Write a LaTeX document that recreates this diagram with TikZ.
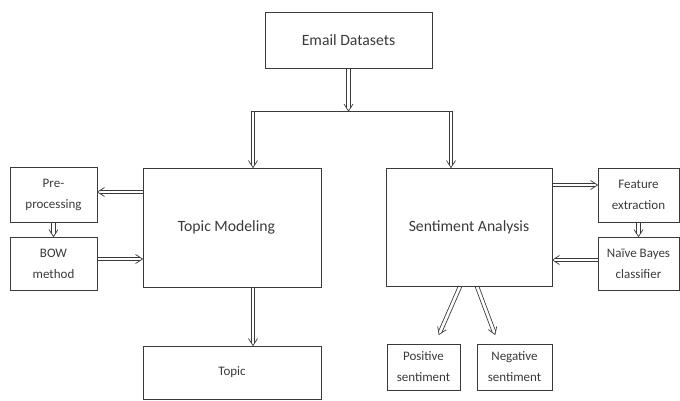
\documentclass[tikz,border=0pt]{standalone}
\usepackage{fontspec}
\setmainfont{Carlito}
\usetikzlibrary{calc}
\definecolor{inkgray}{HTML}{3A3A3A}
% hollow double arrow from #1 to #2
\newcommand{\flowarrow}[2]{%
  \coordinate (fa) at (#1);
  \coordinate (fb) at (#2);
  \coordinate (fc) at ($(fb)!2.8pt!(fa)$);
  \coordinate (fd) at ($(fb)!7pt!(fa)$);
  \draw[flowline] ($(fa)!1.8pt!90:(fb)$) -- ($(fc)!1.8pt!-90:(fa)$);
  \draw[flowline] ($(fa)!1.8pt!-90:(fb)$) -- ($(fc)!1.8pt!90:(fa)$);
  \draw[flowline] ($(fd)!4.5pt!-90:(fa)$) -- (fb) -- ($(fd)!4.5pt!90:(fa)$);
}
\begin{document}
\begin{tikzpicture}[x=1pt, y=-1pt,
    block/.style ={rectangle, draw=inkgray, line width=0.9pt, text=inkgray,
                   inner sep=0pt, align=center, font=\fontsize{15.7}{18}\selectfont},
    smallblock/.style ={block, font=\fontsize{13}{21}\selectfont},
    flowline/.style ={draw=inkgray, line width=0.7pt, line join=miter}]
   \useasboundingbox (0,0) rectangle (680,401);
   \node[block, minimum width=167pt, minimum height=56pt]  (data)  at (348.5,40)   {Email Datasets};
   \node[block, minimum width=178pt, minimum height=119pt] (model) at (232,227.5)  {Topic Modeling\hspace*{11pt}};
   \node[block, minimum width=166pt, minimum height=118pt] (senti) at (469,227)    {Sentiment Analysis};
   \node[smallblock, minimum width=87pt, minimum height=55pt] (prep) at (53.5,194.5) {Pre-\\processing};
   \node[smallblock, minimum width=87pt, minimum height=53pt] (bow)  at (53.5,263.5) {BOW\\method};
   \node[smallblock, minimum width=81pt, minimum height=54pt] (feat) at (638.5,195)  {Feature\\extraction};
   \node[smallblock, minimum width=81pt, minimum height=53pt] (bayes) at (638.5,263.5) {Naïve Bayes\\classifier};
   \node[smallblock, minimum width=178pt, minimum height=53pt] (topic) at (232,372.5) {Topic};
   \node[smallblock, minimum width=73pt, minimum height=46pt] (pos) at (423.5,367) {Positive\\sentiment};
   \node[smallblock, minimum width=75pt, minimum height=46pt] (neg) at (514.5,367) {Negative\\sentiment};
   \coordinate (left)  at (253,111);
   \coordinate (right) at (451,111);
   \draw[flowline, line width=0.6pt] ([xshift=-2pt]left) -- ([xshift=2pt]right);
   \flowarrow{data.south}{data.south |- left}
   \flowarrow{left}{left |- model.north}
   \flowarrow{right}{right |- senti.north}
   \flowarrow{[yshift=2.5pt]prep.east -| model.west}{[yshift=2.5pt]prep.east}
   \flowarrow{prep.south}{bow.north}
   \flowarrow{[yshift=4.5pt]bow.east}{[yshift=4.5pt]bow.east -| model.west}
   \flowarrow{[yshift=10pt]feat.west -| senti.east}{[yshift=10pt]feat.west}
   \flowarrow{feat.south}{bayes.north}
   \flowarrow{[yshift=3.5pt]bayes.west}{[yshift=3.5pt]bayes.west -| senti.east}
   \flowarrow{left |- model.south}{left |- topic.north}
   \flowarrow{[xshift=-9pt]senti.south}{[xshift=15.5pt, yshift=9pt]pos.north}
   \flowarrow{[xshift=8pt]senti.south}{[xshift=-19.5pt, yshift=9pt]neg.north}
\end{tikzpicture}
\end{document}
